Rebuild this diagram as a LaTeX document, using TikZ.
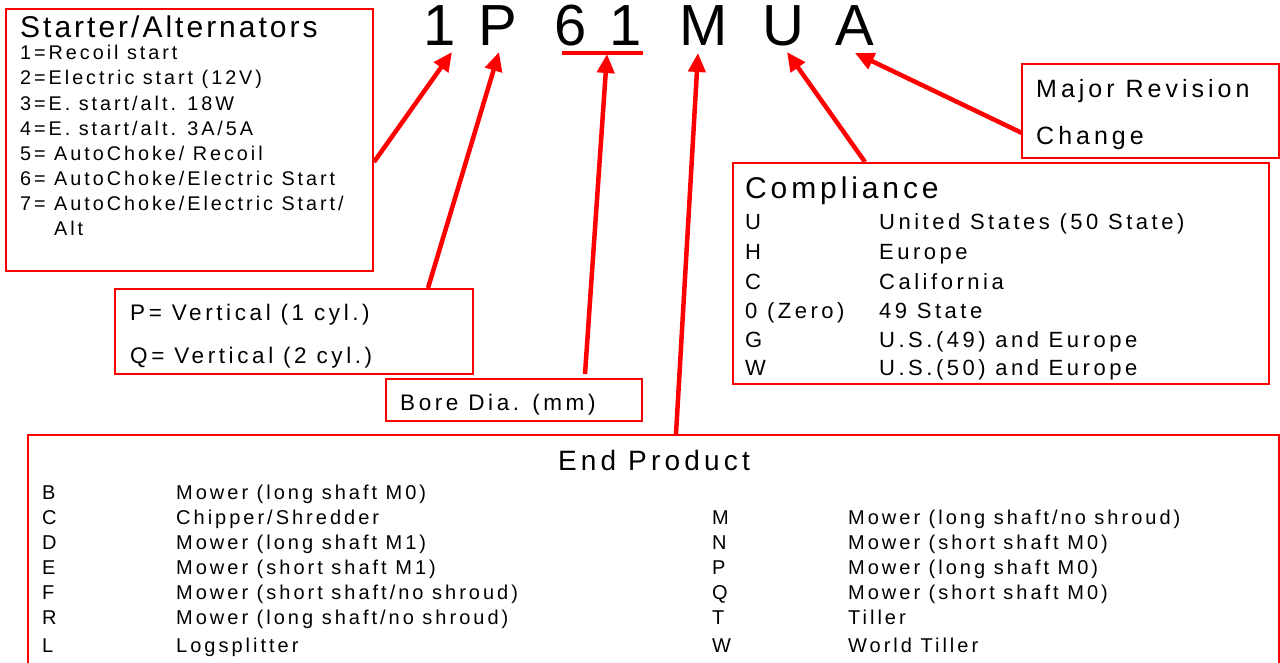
\documentclass[tikz,border=0pt]{standalone}
\usepackage{fontspec}
\setmainfont{Liberation Sans}[LetterSpace=15]
\usetikzlibrary{arrows.meta,calc}

\tikzset{
  codebox/.style={draw=red, line width=2pt, anchor=north west, inner sep=0pt},
  txt/.style={anchor=base west, inner sep=0pt},
  bigch/.style={anchor=base, inner sep=0pt, font=\fontsize{58}{60}\selectfont\addfontfeature{LetterSpace=0}},
  pointer/.style={red, line width=4.5pt, -{Triangle[length=19pt,width=17pt]}},
  fA/.style={font=\fontsize{19.8}{23}\selectfont},
  fB/.style={font=\fontsize{22.5}{26}\selectfont\addfontfeature{LetterSpace=16}},
  fC/.style={font=\fontsize{22}{26}\selectfont\addfontfeature{LetterSpace=16}},
  fD/.style={font=\fontsize{20}{24}\selectfont},
}

\begin{document}
\begin{tikzpicture}[x=1pt,y=-1pt]

\def\LINECOLOR{red}
	\useasboundingbox (0,0) rectangle (1280,662);

	% the model code
	\node[bigch] (d1) at (439.5,45) {1};
	\node[bigch] (dP) at (498,45) {P};
	\node[bigch] (d6) at (570.5,45) {6};
	\node[bigch] (d1b) at (626,45) {1};
	\node[bigch] (dM) at (704,45) {M};
	\node[bigch] (dU) at (783,45) {U};
	\node[bigch] (dA) at (855,45) {A};
	\draw[\LINECOLOR, line width=3.5pt] (562,53) -- (643,53);

	\coordinate (t1) at (452,52);
	\coordinate (tP) at (499,52);
	\coordinate (t61) at (607,54);
	\coordinate (tM) at (698,53);
	\coordinate (tU) at (787,52);
	\coordinate (tA) at (855,53);

	% starter box
	\node[codebox, minimum width=367pt, minimum height=262pt] (starter) at (5,8) {};
	\node[txt, font=\fontsize{30}{36}\selectfont\addfontfeature{LetterSpace=10}] (sthead) at (20,37) {Starter/Alternators};
	\node[txt, fA] (st1) at (20,59) {1=Recoil start};
	\node[txt, fA] (st2) at (20,84) {2=Electric start (12V)};
	\node[txt, fA] (st3) at (20,110) {3=E. start/alt. 18W};
	\node[txt, fA] (st4) at (20,135) {4=E. start/alt. 3A/5A};
	\node[txt, fA] (st5) at (20,160) {5= AutoChoke/ Recoil};
	\node[txt, fA] (st6) at (20,185) {6= AutoChoke/Electric Start};
	\node[txt, fA] (st7) at (20,210) {7= AutoChoke/Electric Start/};
	\node[txt, fA] (st7b) at (54,235) {Alt};

	% P / Q box
	\node[codebox, minimum width=358pt, minimum height=85pt] (cyl) at (114,288) {};
	\node[txt, fB] (cyl1) at (130,320) {P= Vertical (1 cyl.)};
	\node[txt, fB] (cyl2) at (130,363) {Q= Vertical (2 cyl.)};

	% bore box
	\node[codebox, minimum width=256pt, minimum height=42pt] (bore) at (385,378) {};
	\node[txt, fB] (boretxt) at (400,410) {Bore Dia. (mm)};

	% revision box
	\node[codebox, minimum width=257pt, minimum height=94pt] (rev) at (1021,63) {};
	\node[txt, font=\fontsize{25}{28}\selectfont\addfontfeature{LetterSpace=16}] (rev1) at (1036,97) {Major Revision};
	\node[txt, font=\fontsize{25}{28}\selectfont\addfontfeature{LetterSpace=16}] (rev2) at (1036,144) {Change};

	% compliance box
	\node[codebox, minimum width=536pt, minimum height=221pt] (comp) at (732,162) {};
	\node[txt, font=\fontsize{30}{36}\selectfont\addfontfeature{LetterSpace=13}] (comphead) at (745,198) {Compliance};
	\node[txt, fC] (cpU) at (745,229) {U};
	\node[txt, fC] (cpUd) at (879,229) {United States (50 State)};
	\node[txt, fC] (cpH) at (745,259) {H};
	\node[txt, fC] (cpHd) at (879,259) {Europe};
	\node[txt, fC] (cpC) at (745,289) {C};
	\node[txt, fC] (cpCd) at (879,289) {California};
	\node[txt, fC] (cp0) at (745,318) {0 (Zero)};
	\node[txt, fC] (cp0d) at (879,318) {49 State};
	\node[txt, fC] (cpG) at (745,347) {G};
	\node[txt, fC] (cpGd) at (879,347) {U.S.(49) and Europe};
	\node[txt, fC] (cpW) at (745,375) {W};
	\node[txt, fC] (cpWd) at (879,375) {U.S.(50) and Europe};

	% end product box
	\node[codebox, minimum width=1251pt, minimum height=260pt] (endp) at (27,434) {};
	\node[anchor=base, inner sep=0pt, font=\fontsize{28}{34}\selectfont] (endhead) at (654,470) {End Product};
	\node[txt, fD] (epB) at (42,499) {B};
	\node[txt, fD] (epBd) at (176,499) {Mower (long shaft M0)};
	\node[txt, fD] (epC) at (42,524) {C};
	\node[txt, fD] (epCd) at (176,524) {Chipper/Shredder};
	\node[txt, fD] (epD) at (42,549) {D};
	\node[txt, fD] (epDd) at (176,549) {Mower (long shaft M1)};
	\node[txt, fD] (epE) at (42,574) {E};
	\node[txt, fD] (epEd) at (176,574) {Mower (short shaft M1)};
	\node[txt, fD] (epF) at (42,599) {F};
	\node[txt, fD] (epFd) at (176,599) {Mower (short shaft/no shroud)};
	\node[txt, fD] (epR) at (42,624) {R};
	\node[txt, fD] (epRd) at (176,624) {Mower (long shaft/no shroud)};
	\node[txt, fD] (epL) at (42,652) {L};
	\node[txt, fD] (epLd) at (176,652) {Logsplitter};
	\node[txt, fD] (epM) at (712,524) {M};
	\node[txt, fD] (epMd) at (848,524) {Mower (long shaft/no shroud)};
	\node[txt, fD] (epN) at (712,549) {N};
	\node[txt, fD] (epNd) at (848,549) {Mower (short shaft M0)};
	\node[txt, fD] (epP) at (712,574) {P};
	\node[txt, fD] (epPd) at (848,574) {Mower (long shaft M0)};
	\node[txt, fD] (epQ) at (712,599) {Q};
	\node[txt, fD] (epQd) at (848,599) {Mower (short shaft M0)};
	\node[txt, fD] (epT) at (712,624) {T};
	\node[txt, fD] (epTd) at (848,624) {Tiller};
	\node[txt, fD] (epW) at (712,652) {W};
	\node[txt, fD] (epWd) at (848,652) {World Tiller};

	% pointers
	\draw[pointer] ($(starter.north east)+(0,154)$) -- (t1);
	\draw[pointer] ($(cyl.north west)+(314,0)$) -- (tP);
	\draw[pointer] ($(bore.north west)+(200,-4)$) -- (t61);
	\draw[pointer] ($(endp.north west)+(649,0)$) -- (tM);
	\draw[pointer] ($(comp.north west)+(133,0)$) -- (tU);
	\draw[pointer] ($(rev.north west)+(1,70)$) -- (tA);

\end{tikzpicture}
\end{document}
